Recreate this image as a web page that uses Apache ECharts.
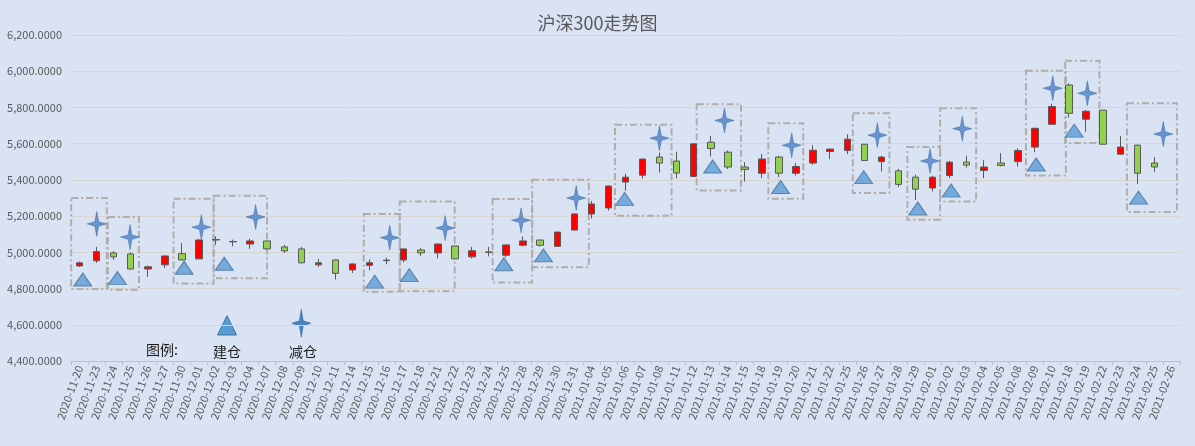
<!DOCTYPE html>
<html>
<head>
<meta charset="utf-8">
<script src="https://cdn.jsdelivr.net/npm/echarts@6/dist/echarts.min.js"></script>
<style>
  html, body { margin: 0; padding: 0; background: #dae3f3; }
  #chart { width: 1195px; height: 446px; }
</style>
</head>
<body>
<div id="chart"></div>
<script>
// trading days on the x axis
const dates = [
  "2020-11-20", "2020-11-23", "2020-11-24", "2020-11-25", "2020-11-26", "2020-11-27", "2020-11-30",
  "2020-12-01", "2020-12-02", "2020-12-03", "2020-12-04", "2020-12-07", "2020-12-08", "2020-12-09",
  "2020-12-10", "2020-12-11", "2020-12-14", "2020-12-15", "2020-12-16", "2020-12-17", "2020-12-18",
  "2020-12-21", "2020-12-22", "2020-12-23", "2020-12-24", "2020-12-25", "2020-12-28", "2020-12-29",
  "2020-12-30", "2020-12-31", "2021-01-04", "2021-01-05", "2021-01-06", "2021-01-07", "2021-01-08",
  "2021-01-11", "2021-01-12", "2021-01-13", "2021-01-14", "2021-01-15", "2021-01-18", "2021-01-19",
  "2021-01-20", "2021-01-21", "2021-01-22", "2021-01-25", "2021-01-26", "2021-01-27", "2021-01-28",
  "2021-01-29", "2021-02-01", "2021-02-02", "2021-02-03", "2021-02-04", "2021-02-05", "2021-02-08",
  "2021-02-09", "2021-02-10", "2021-02-18", "2021-02-19", "2021-02-22", "2021-02-23", "2021-02-24",
  "2021-02-25", "2021-02-26"
];

// [open, close, low, high]
const kline = [
  [4925, 4942, 4919, 4949], [4953, 5004, 4942, 5030], [4997, 4975, 4958, 5006], [4991, 4908, 4905, 5000],
  [4908, 4920, 4864, 4927], [4931, 4980, 4914, 4982], [4993, 4958, 4956, 5052], [4964, 5068, 4962, 5074],
  [5068, 5071, 5041, 5088], [5060, 5058, 5033, 5070], [5046, 5063, 5019, 5075], [5063, 5019, 5018, 5064],
  [5030, 5008, 4997, 5041], [5019, 4942, 4940, 5030], [4931, 4942, 4920, 4964], [4958, 4884, 4850, 4960],
  [4903, 4936, 4886, 4937], [4928, 4943, 4901, 4960], [4954, 4957, 4934, 4971], [4958, 5019, 4945, 5020],
  [5013, 4997, 4980, 5024], [4997, 5046, 4967, 5047], [5035, 4964, 4962, 5036], [4975, 5009, 4967, 5030],
  [5000, 5002, 4978, 5030], [4984, 5041, 4973, 5042], [5039, 5063, 5033, 5088], [5068, 5039, 5031, 5070],
  [5033, 5112, 5032, 5113], [5123, 5212, 5120, 5217], [5212, 5267, 5187, 5283], [5245, 5366, 5231, 5368],
  [5388, 5415, 5340, 5434], [5426, 5515, 5408, 5516], [5526, 5493, 5441, 5551], [5504, 5438, 5408, 5555],
  [5419, 5599, 5415, 5600], [5608, 5573, 5529, 5643], [5553, 5471, 5460, 5562], [5471, 5458, 5390, 5498],
  [5437, 5515, 5410, 5542], [5526, 5437, 5415, 5533], [5437, 5474, 5424, 5493], [5493, 5564, 5483, 5592],
  [5557, 5570, 5515, 5572], [5562, 5625, 5542, 5652], [5597, 5507, 5505, 5598], [5501, 5526, 5446, 5533],
  [5450, 5375, 5360, 5461], [5415, 5349, 5289, 5428], [5355, 5415, 5336, 5423], [5424, 5498, 5410, 5505],
  [5498, 5482, 5468, 5533], [5452, 5471, 5410, 5509], [5493, 5480, 5474, 5548], [5501, 5562, 5474, 5575],
  [5581, 5685, 5553, 5686], [5707, 5805, 5705, 5821], [5924, 5768, 5744, 5933], [5735, 5779, 5665, 5786],
  [5785, 5597, 5596, 5786], [5542, 5581, 5540, 5643], [5592, 5437, 5377, 5594], [5493, 5471, 5443, 5526],
  "-"
];

// 建仓 markers: [position in day units, price]
const buildPoints = [
  [0.19, 4850], [2.22, 4858], [6.13, 4915], [8.48, 4937], [17.30, 4838], [19.33, 4874],
  [24.87, 4934], [27.19, 4983], [31.95, 5295], [37.11, 5474], [41.09, 5361], [45.96, 5415],
  [49.13, 5242], [51.09, 5341], [56.07, 5485], [58.30, 5672], [62.07, 5302]
];

// 减仓 markers
const reducePoints = [
  [1.01, 5157], [2.96, 5084], [7.14, 5139], [10.32, 5195], [18.18, 5081], [21.43, 5134],
  [25.88, 5177], [29.11, 5300], [33.99, 5630], [37.80, 5728], [41.74, 5591], [46.76, 5647],
  [49.85, 5504], [51.74, 5683], [57.04, 5906], [59.07, 5878], [63.52, 5653]
];

// dashed boxes: [from day, to day, top price, bottom price]
const boxes = [
  [-0.49, 1.60, 5300, 4798], [1.66, 3.48, 5195, 4794], [5.51, 7.86, 5296, 4828],
  [7.86, 10.99, 5312, 4857], [16.66, 18.77, 5212, 4782], [18.77, 21.99, 5281, 4785],
  [24.21, 26.53, 5294, 4833], [26.53, 29.85, 5401, 4917], [31.38, 34.70, 5704, 5202],
  [36.17, 38.77, 5818, 5342], [40.37, 42.42, 5713, 5296], [45.32, 47.47, 5768, 5327],
  [48.52, 50.44, 5581, 5180], [50.44, 52.55, 5796, 5281], [55.47, 57.81, 6003, 5424],
  [57.77, 59.78, 6058, 5603], [61.39, 64.32, 5823, 5223]
];

const FONT = '"Noto Sans CJK SC", "Noto Sans", sans-serif';
const STAR = [[10, 0], [12, 11.5], [20, 14], [12, 16.5], [10, 28], [8, 16.5], [0, 14], [8, 11.5]];
const starPath = "path://M" + STAR.map(p => p.join(",")).join(" L") + " Z";
const STAR_COLOR = "#4a80c4";
const STAR_EDGE = "#36679f";

function starPoints(cx, cy, w, h) {
  return STAR.map(p => [cx - w / 2 + p[0] * w / 20, cy - h / 2 + p[1] * h / 28]);
}

const chart = echarts.init(document.getElementById("chart"));

chart.setOption({
  backgroundColor: "#dae3f3",
  animation: false,
  title: {
    text: "沪深300走势图",
    left: "center",
    top: 9,
    textStyle: { fontFamily: FONT, fontSize: 18, fontWeight: "normal", color: "#595959" }
  },
  grid: { left: 71, right: 15, top: 35, bottom: 85 },
  xAxis: [
    {
      type: "category",
      data: dates,
      boundaryGap: true,
      axisLine: { lineStyle: { color: "#bfbfbf" } },
      axisTick: { show: true, length: 4, lineStyle: { color: "#bfbfbf" } },
      axisLabel: {
        interval: 0, rotate: 70, margin: 5,
        fontFamily: FONT, fontSize: 11, color: "#595959"
      },
      splitLine: { show: false }
    },
    { type: "value", min: -0.5, max: 64.5, show: false }
  ],
  yAxis: {
    type: "value",
    min: 4400,
    max: 6200,
    interval: 200,
    axisLine: { show: false },
    axisTick: { show: false },
    axisLabel: {
      margin: 9, fontFamily: FONT, fontSize: 11, color: "#595959",
      formatter: v => v.toLocaleString("en-US", { minimumFractionDigits: 4, maximumFractionDigits: 4 })
    },
    splitLine: { lineStyle: { color: "#d9d6d2" } }
  },
  series: [
    {
      type: "custom",
      xAxisIndex: 1,
      data: boxes,
      encode: { x: [0, 1], y: [2, 3] },
      clip: false,
      z: 1,
      renderItem: function (params, api) {
        const p0 = api.coord([api.value(0), api.value(2)]);
        const p1 = api.coord([api.value(1), api.value(3)]);
        return {
          type: "rect",
          shape: { x: p0[0], y: p0[1], width: p1[0] - p0[0], height: p1[1] - p0[1] },
          style: { fill: "none", stroke: "#b0adab", lineWidth: 2, lineDash: [7, 3, 2, 3] }
        };
      }
    },
    {
      type: "candlestick",
      data: kline,
      barWidth: 7,
      z: 3,
      itemStyle: {
        color: "#ff0000",
        color0: "#92d050",
        borderColor: "#595959",
        borderColor0: "#595959",
        borderWidth: 1
      }
    },
    {
      name: "建仓",
      type: "scatter",
      xAxisIndex: 1,
      data: buildPoints,
      symbol: "triangle",
      symbolSize: [18, 13],
      z: 4,
      itemStyle: { color: "#5b9bd5", borderColor: "#41719c", borderWidth: 1 }
    },
    {
      name: "减仓",
      type: "scatter",
      xAxisIndex: 1,
      data: reducePoints,
      symbol: starPath,
      symbolSize: [19, 25],
      z: 4,
      itemStyle: { color: STAR_COLOR, borderColor: STAR_EDGE, borderWidth: 0.6 }
    }
  ],
  graphic: [
    {
      type: "text", left: 146, top: 343,
      style: { text: "图例:", font: "14px " + FONT, fill: "#1a1a1a" }
    },
    {
      type: "polygon",
      shape: { points: [[217.5, 335], [236.5, 335], [227, 315.7]] },
      style: { fill: "#5b9bd5", stroke: "#41719c", lineWidth: 1 }
    },
    {
      type: "text", left: 213, top: 345,
      style: { text: "建仓", font: "14px " + FONT, fill: "#1a1a1a" }
    },
    {
      type: "polygon",
      shape: { points: starPoints(301.3, 323.3, 19, 28) },
      style: { fill: STAR_COLOR, stroke: STAR_EDGE, lineWidth: 0.6 }
    },
    {
      type: "text", left: 289, top: 345,
      style: { text: "减仓", font: "14px " + FONT, fill: "#1a1a1a" }
    }
  ]
});
</script>
</body>
</html>
